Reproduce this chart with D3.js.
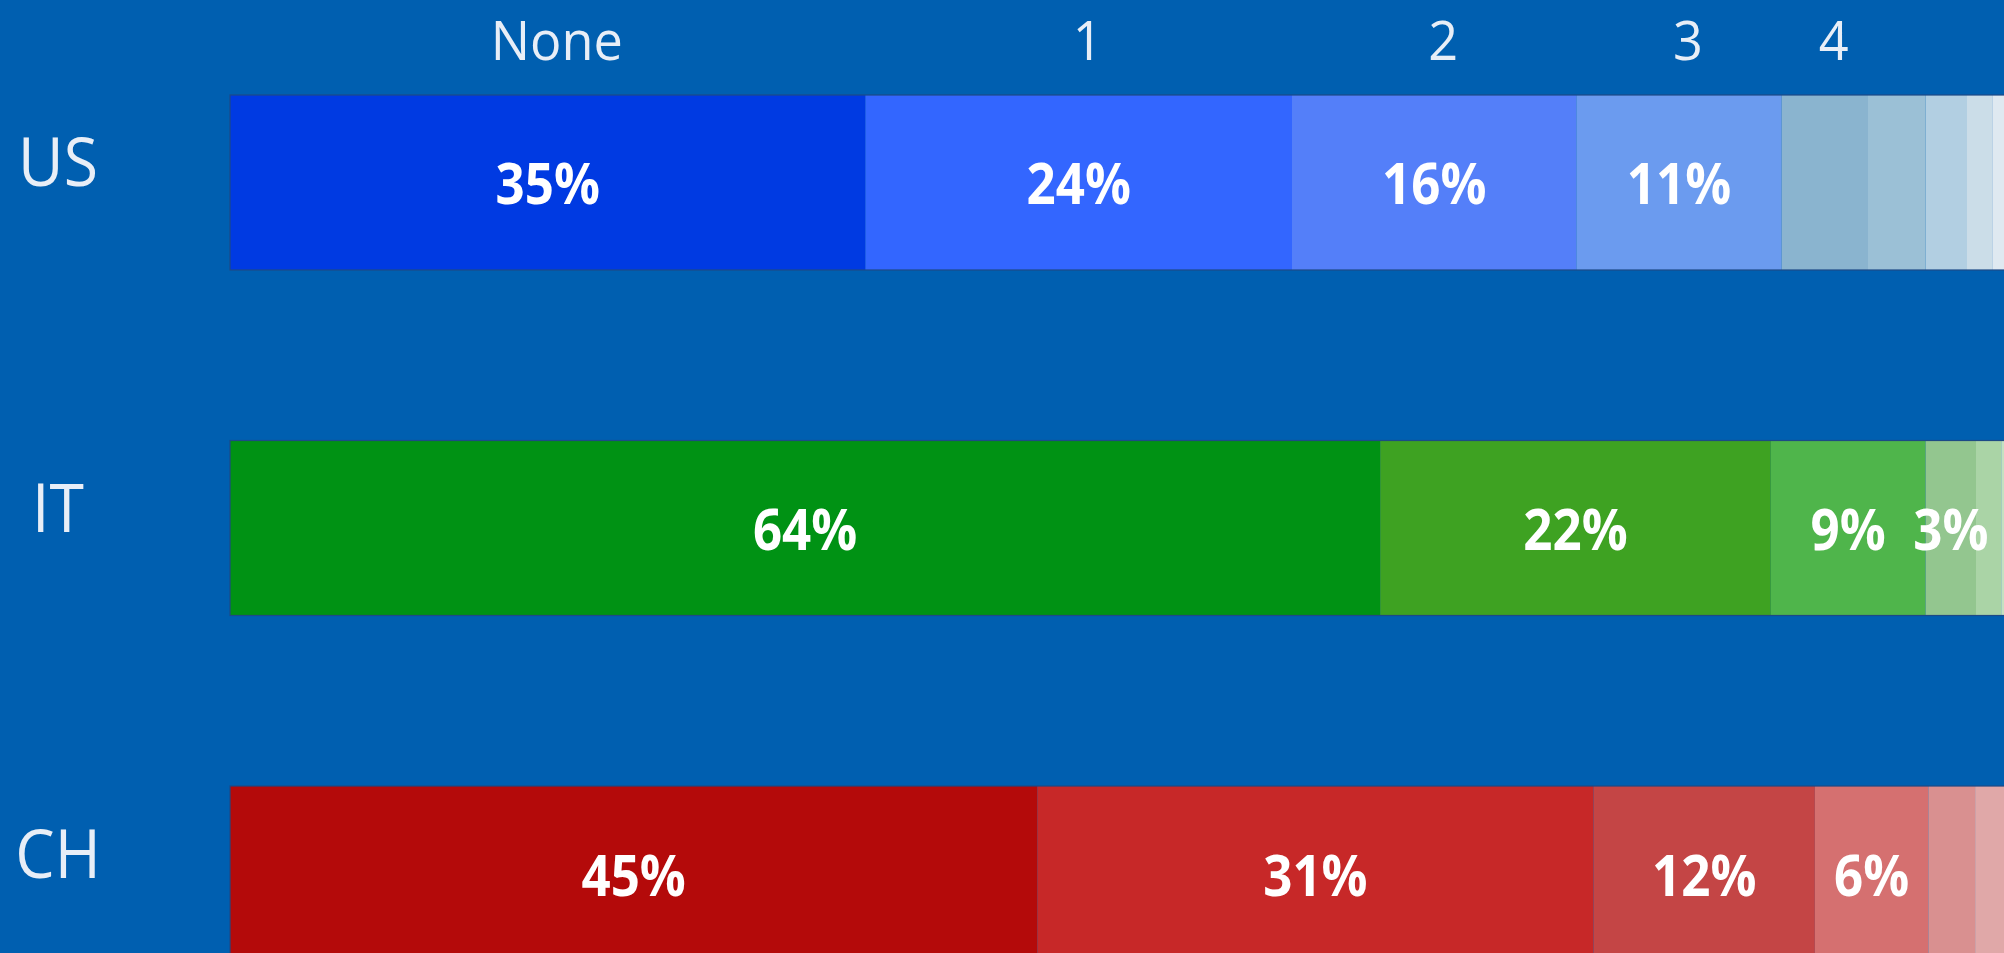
<!DOCTYPE html>
<html>
<head>
<meta charset="utf-8">
<script src="https://cdn.jsdelivr.net/npm/d3@7"></script>
<style>
  html, body { margin: 0; padding: 0; background: #005fb0; overflow: hidden; }
  svg { display: block; }
</style>
</head>
<body>
<svg id="chart" width="2004" height="953"></svg>
<script>
// Share of people by number of items, per country (percent)
const countries = ["US", "IT", "CH"];
const headers = ["None", "1", "2", "3", "4"];

const usValues = [35.3, 23.7, 15.8, 11.4, 4.8, 3.2, 2.3, 1.4, 2.1];
const itValues = [63.9, 21.7, 8.6, 2.8, 1.4, 1.6];
const chValues = [44.85, 30.9, 12.3, 6.3, 2.6, 3.05];

const usColors = ["#003ae2", "#3366ff", "#547ff9", "#6b9bef", "#8ab4cf", "#9bc0d6", "#b2cfe2", "#cbdde8", "#dfe9f1"];
const itColors = ["#009214", "#3ea222", "#4fb54b", "#93c68f", "#aad4a6", "#c4e1c1"];
const chColors = ["#b40a0a", "#c72828", "#c44545", "#d57070", "#d99090", "#e0a8a8"];

// number of leading segments that carry a value label
const labelledCount = 4;

const rows = [
  { name: "US", values: usValues, colors: usColors },
  { name: "IT", values: itValues, colors: itColors },
  { name: "CH", values: chValues, colors: chColors }
];

const svg = d3.select("#chart");

const x = d3.scaleLinear().domain([0, 100]).range([230, 2030]);
const y = d3.scaleBand().domain(countries).range([95, 961]).paddingInner(0.4935).paddingOuter(0);

// stack each row into [start, end] segments
rows.forEach(r => {
  let acc = 0;
  r.segments = r.values.map((v, i) => {
    const s = { start: acc, end: acc + v, value: v, color: r.colors[i], index: i };
    acc += v;
    return s;
  });
});

const rowG = svg.selectAll("g.row")
  .data(rows)
  .join("g")
  .attr("class", "row")
  .attr("transform", d => `translate(0,${y(d.name)})`);

rowG.selectAll("rect.seg")
  .data(d => d.segments)
  .join("rect")
  .attr("class", "seg")
  .attr("x", d => x(d.start))
  .attr("width", d => x(d.end) - x(d.start))
  .attr("y", 0)
  .attr("height", y.bandwidth())
  .attr("fill", d => d.color);

// thin outline around the whole bar
rowG.append("rect")
  .attr("x", x(0))
  .attr("y", 0)
  .attr("width", x(100) - x(0))
  .attr("height", y.bandwidth())
  .attr("fill", "none")
  .attr("stroke", "#1d4a86")
  .attr("stroke-width", 1.2);

// value labels inside segments
rowG.selectAll("text.val")
  .data(d => d.segments.filter(s => s.index < labelledCount))
  .join("text")
  .attr("class", "val")
  .attr("transform", d => `translate(${(x(d.start) + x(d.end)) / 2},${y.bandwidth() / 2 + 22}) scale(0.88,1)`)
  .attr("text-anchor", "middle")
  .attr("font-family", "'Open Sans', 'Noto Sans', sans-serif")
  .attr("font-weight", 700)
  .attr("font-size", 58)
  .attr("fill", "#ffffff")
  .text(d => Math.round(d.value) + "%");

// country labels
svg.selectAll("text.country")
  .data(rows)
  .join("text")
  .attr("class", "country")
  .attr("transform", d => `translate(58,${y(d.name) + y.bandwidth() / 2 + 4}) scale(0.92,1)`)
  .attr("text-anchor", "middle")
  .attr("font-family", "'Open Sans', 'Noto Sans', sans-serif")
  .attr("font-weight", 400)
  .attr("font-size", 68)
  .attr("fill", "#e8eef7")
  .text(d => d.name);

// column headers over the first row's segments
const firstRow = rows[0].segments;
svg.selectAll("text.header")
  .data(headers)
  .join("text")
  .attr("class", "header")
  .attr("transform", (d, i) => `translate(${(x(firstRow[i].start) + x(firstRow[i].end)) / 2 + 9},60) scale(0.95,1)`)
  .attr("text-anchor", "middle")
  .attr("font-family", "'Open Sans', 'Noto Sans', sans-serif")
  .attr("font-weight", 400)
  .attr("font-size", 55)
  .attr("fill", "#e8eef7")
  .text(d => d);
</script>
</body>
</html>
